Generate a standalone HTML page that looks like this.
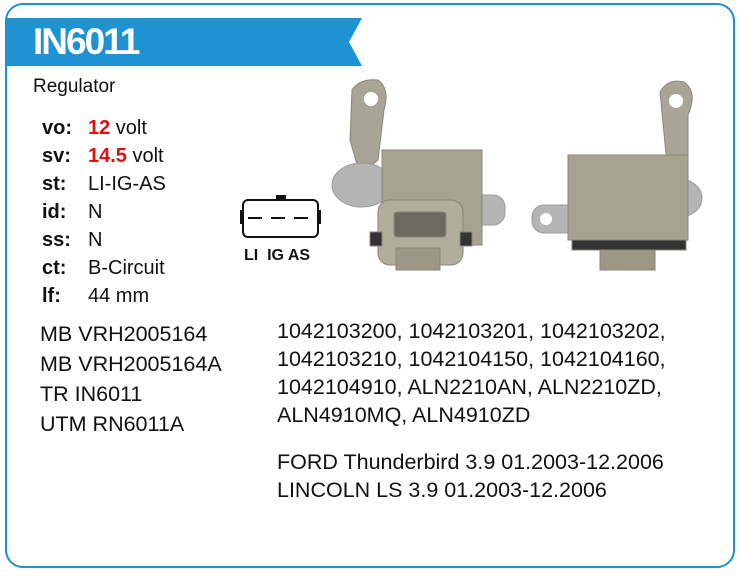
<!DOCTYPE html>
<html><head><style>
body{margin:0;width:740px;height:576px;background:#fff;font-family:"Liberation Sans",Arial,sans-serif;position:relative;overflow:hidden}
.frame{position:absolute;left:5px;top:3px;width:726px;height:561px;border:2px solid #1e8fd0;border-radius:18px}
.t{position:absolute;white-space:nowrap;color:#111;font-size:20px;line-height:20px}
.k{font-weight:bold;left:42px}
.v{left:88px}
.r{color:#e01010;font-weight:bold}
.n{font-size:21.5px;line-height:21px;letter-spacing:0px}
</style></head><body>
<div class="frame"></div>
<svg style="position:absolute;left:0;top:0" width="740" height="576">
<polygon points="7,18 362,18 349,42 362,66 7,66" fill="#1e93d3"/>
<rect x="243" y="200" width="75" height="37" rx="5" fill="#fff" stroke="#111" stroke-width="2"/>
<rect x="276" y="195" width="10" height="5" fill="#111"/>
<rect x="240" y="210" width="3" height="14" fill="#111"/><rect x="318" y="210" width="3" height="14" fill="#111"/>
<line x1="248" y1="218" x2="314" y2="218" stroke="#111" stroke-width="2" stroke-dasharray="14,9"/>
<g fill="#a9a496" stroke="#8a8577">
<path d="M352,90 Q360,78 378,80 Q390,88 384,110 L378,160 L360,175 L350,140 Z"/>
<ellipse cx="362" cy="185" rx="30" ry="22" fill="#b5b5b5" stroke="#999"/>
<rect x="450" y="195" width="55" height="30" rx="12" fill="#b5b5b5" stroke="#999"/>
<rect x="382" y="150" width="100" height="95" fill="#a8a290"/>
<rect x="378" y="200" width="85" height="65" rx="12" fill="#b3ad9c"/>
<rect x="394" y="212" width="52" height="25" rx="3" fill="#6e6a60"/>
<rect x="396" y="248" width="44" height="22" fill="#9d9786"/>
<rect x="370" y="232" width="12" height="14" fill="#333"/><rect x="460" y="232" width="12" height="14" fill="#333"/>
</g>
<circle cx="371" cy="99" r="7" fill="#fff"/>
<g fill="#a9a496" stroke="#8a8577">
<path d="M660,92 Q668,78 684,82 Q698,92 688,115 L688,190 L670,195 Z"/>
<rect x="532" y="205" width="50" height="28" rx="12" fill="#b5b5b5" stroke="#999"/>
<ellipse cx="676" cy="198" rx="26" ry="20" fill="#b5b5b5" stroke="#999"/>
<rect x="568" y="155" width="120" height="85" fill="#a8a290"/>
<rect x="572" y="240" width="114" height="10" fill="#333"/>
<rect x="600" y="250" width="55" height="20" fill="#9d9786"/>
</g>
<circle cx="676" cy="101" r="7" fill="#fff"/>
<circle cx="546" cy="219" r="6" fill="#fff"/>
</svg>
<div class="t" style="left:33px;top:23px;font-size:37px;line-height:38px;font-weight:bold;color:#fff;letter-spacing:-2px">IN6011</div>
<div class="t" style="left:33px;top:77px;font-size:19px">Regulator</div>
<div class="t" style="left:244px;top:246px;font-size:16px;font-weight:bold">LI&nbsp; IG AS</div>

<div class="t k" style="top:118px">vo:</div><div class="t v" style="top:118px"><span class="r">12</span> volt</div>
<div class="t k" style="top:146px">sv:</div><div class="t v" style="top:146px"><span class="r">14.5</span> volt</div>
<div class="t k" style="top:174px">st:</div><div class="t v" style="top:174px">LI-IG-AS</div>
<div class="t k" style="top:202px">id:</div><div class="t v" style="top:202px">N</div>
<div class="t k" style="top:230px">ss:</div><div class="t v" style="top:230px">N</div>
<div class="t k" style="top:258px">ct:</div><div class="t v" style="top:258px">B-Circuit</div>
<div class="t k" style="top:286px">lf:</div><div class="t v" style="top:286px">44 mm</div>

<div class="t n" style="left:40px;top:324px">MB VRH2005164</div>
<div class="t n" style="left:40px;top:354px">MB VRH2005164A</div>
<div class="t n" style="left:40px;top:384px">TR IN6011</div>
<div class="t n" style="left:40px;top:414px">UTM RN6011A</div>

<div class="t n" style="left:277px;top:321px">1042103200, 1042103201, 1042103202,</div>
<div class="t n" style="left:277px;top:349px">1042103210, 1042104150, 1042104160,</div>
<div class="t n" style="left:277px;top:377px">1042104910, ALN2210AN, ALN2210ZD,</div>
<div class="t n" style="left:277px;top:405px">ALN4910MQ, ALN4910ZD</div>
<div class="t n" style="left:277px;top:452px">FORD Thunderbird 3.9 01.2003-12.2006</div>
<div class="t n" style="left:277px;top:480px">LINCOLN LS 3.9 01.2003-12.2006</div>
</body></html>
